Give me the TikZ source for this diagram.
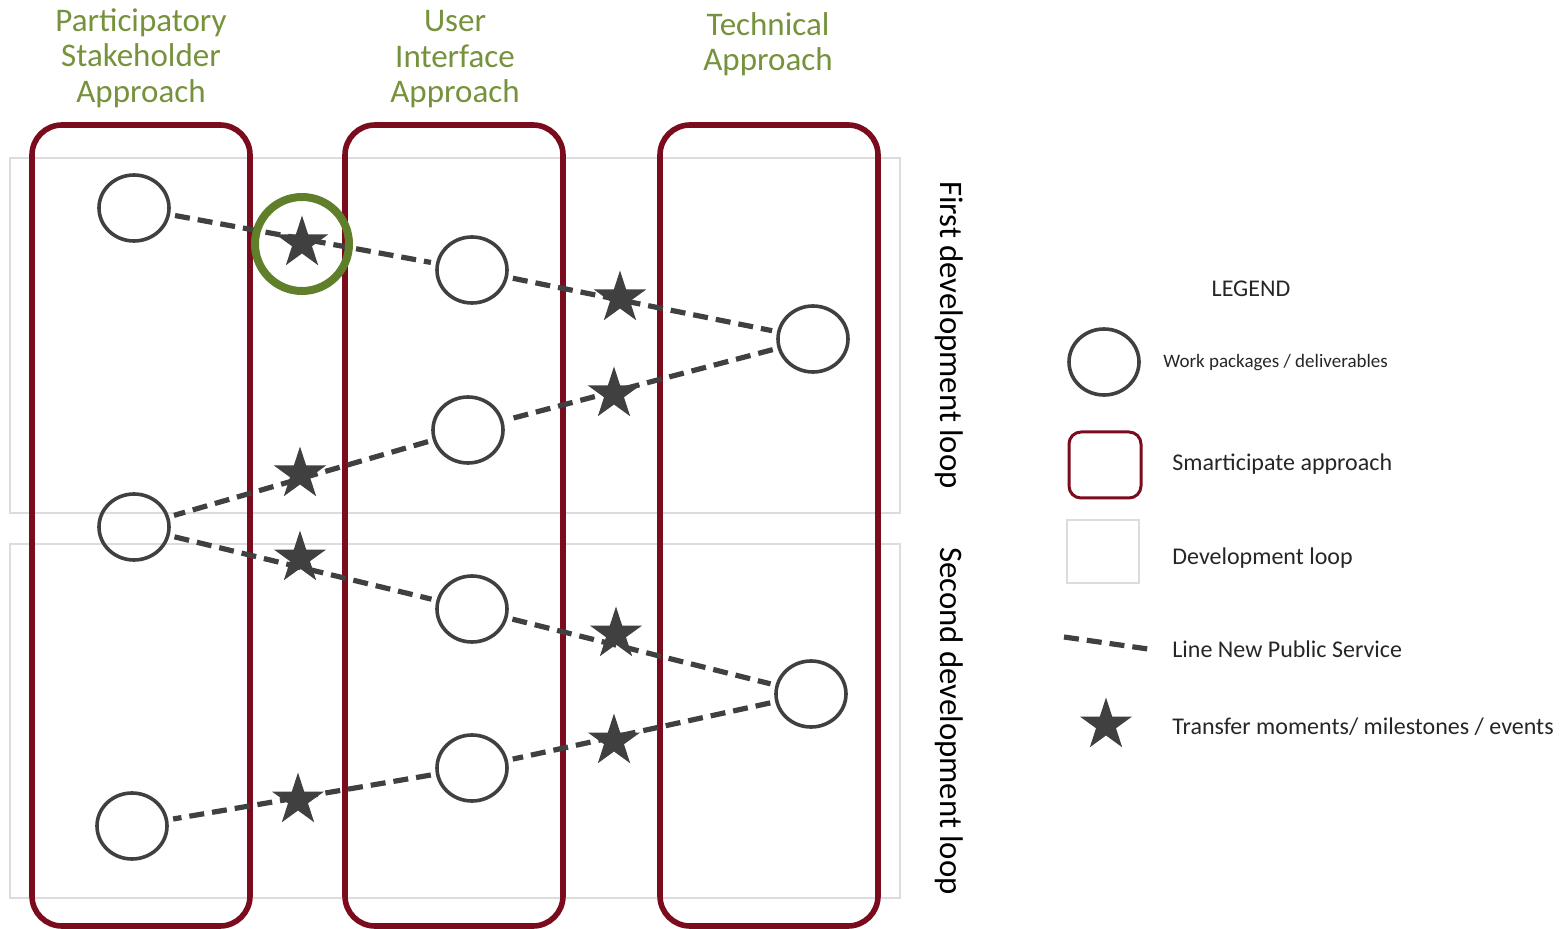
\documentclass[tikz,border=0pt]{standalone}
\usepackage{fontspec}
\setmainfont{Carlito}
\usetikzlibrary{shapes.geometric}
\definecolor{boxred}{HTML}{7A0C1E}
\definecolor{titlegreen}{HTML}{76923C}
\definecolor{ringgreen}{HTML}{5F7F2A}
\definecolor{ink}{HTML}{404040}
\definecolor{loopgray}{HTML}{DCDCDC}
\definecolor{legtext}{HTML}{262626}
\begin{document}
\begin{tikzpicture}[x=0.5pt,y=-0.5pt,
  approach/.style={draw=boxred, line width=2.8pt, rounded corners=15pt},
  loopbox/.style={draw=loopgray, line width=1pt},
  wp/.style={ellipse, draw=ink, line width=1.8pt, minimum width=35pt, minimum height=33pt, inner sep=0pt},
  ms/.style={star, star points=5, star point ratio=2.618, fill=ink, minimum size=27.5pt, inner sep=0pt},
  nps/.style={draw=ink, line width=2.6pt, dash pattern=on 7.5pt off 4pt, shorten <=2.5pt, shorten >=2.5pt},
  title/.style={text=titlegreen, font=\fontsize{16.5}{17.75}\selectfont, align=center, inner sep=0pt, anchor=north},
  side/.style={text=black, font=\fontsize{16.4}{19}\selectfont, rotate=-90, inner sep=0pt},
  legbig/.style={text=legtext, font=\fontsize{12}{14}\selectfont, anchor=west, inner sep=0pt},
  legsmall/.style={text=legtext, font=\fontsize{9.5}{11}\selectfont, anchor=west, inner sep=0pt}
]
\useasboundingbox (0,0) rectangle (1562,929);

% development loops
\draw[loopbox] (10,158) rectangle (900,513);
\draw[loopbox] (10,544) rectangle (900,898);

% approach columns
\draw[approach] (32,125) rectangle (250,926);
\draw[approach] (345,125) rectangle (563,926);
\draw[approach] (660,125) rectangle (878,926);

% titles
\node[title] (t1) at (141,8) {Participatory\\Stakeholder\\Approach};
\node[title] (t2) at (455,10) {User\\Interface\\Approach};
\node[title] (t3) at (768,12) {Technical\\Approach};

% side labels
\node[side] (loop1) at (949,335) {First development loop};
\node[side] (loop2) at (949,721) {Second development loop};

% work packages
\node[wp] (A1) at (134,208) {};
\node[wp] (A2) at (134,527) {};
\node[wp] (A3) at (132,826) {};
\node[wp] (B1) at (472,270) {};
\node[wp] (B2) at (468,430) {};
\node[wp] (B3) at (472,609) {};
\node[wp] (B4) at (472,768) {};
\node[wp] (C1) at (813,339) {};
\node[wp] (C2) at (811,694) {};

% line new public service
\draw[nps] (A1) -- (B1);
\draw[nps] (B1) -- (C1);
\draw[nps] (C1) -- (B2);
\draw[nps] (B2) -- (A2);
\draw[nps] (A2) -- (B3);
\draw[nps] (B3) -- (C2);
\draw[nps] (C2) -- (B4);
\draw[nps] (B4) -- (A3);

% milestones
\node[ms] (S1) at (302,243) {};
\node[ms] (S2) at (620,298) {};
\node[ms] (S3) at (614,394) {};
\node[ms] (S4) at (300,474) {};
\node[ms] (S5) at (300,558) {};
\node[ms] (S6) at (616,634) {};
\node[ms] (S7) at (614,741) {};
\node[ms] (S8) at (298,800) {};

% highlight ring
\node[circle, draw=ringgreen, line width=4pt, minimum size=47pt, inner sep=0pt] (ring) at (302,244) {};

% legend
\node[text=legtext, font=\fontsize{12}{14}\selectfont, inner sep=0pt] (legend) at (1251,289) {LEGEND};
\node[wp] (Lwp) at (1104,362) {};
\node[legsmall] (Lwptext) at (1163,363) {Work packages / deliverables};
\draw[draw=boxred, line width=1.5pt, rounded corners=6pt] (1069,432) rectangle (1141,498);
\node[legbig] (Lapp) at (1172,464) {Smarticipate approach};
\draw[loopbox] (1067,520) rectangle (1139,583);
\node[legbig] (Lloop) at (1172,558) {Development loop};
\coordinate (Ld1) at (1064,637);
\coordinate (Ld2) at (1148,649);
\draw[draw=ink, line width=2.6pt, dash pattern=on 7.5pt off 4pt] (Ld1) -- (Ld2);
\node[legbig] (Lnps) at (1172,649) {Line New Public Service};
\node[ms] (Lms) at (1106,725) {};
\node[legbig] (Lmstext) at (1172,727) {Transfer moments/ milestones / events};
\end{tikzpicture}
\end{document}
